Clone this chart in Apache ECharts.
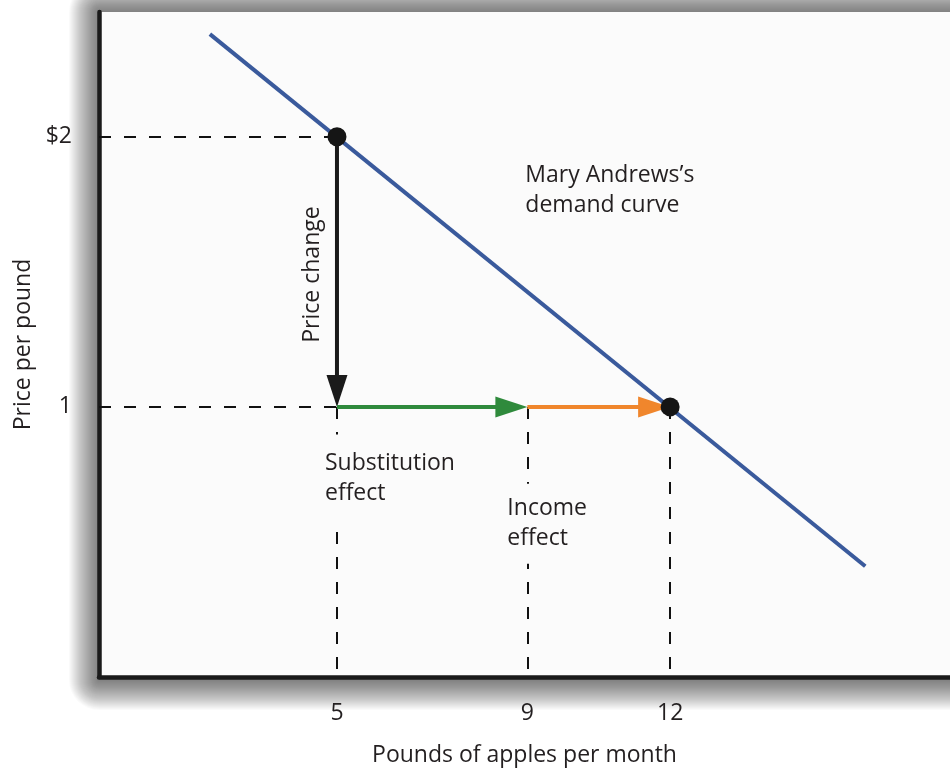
<!DOCTYPE html>
<html>
<head>
<meta charset="utf-8">
<script src="https://cdn.jsdelivr.net/npm/echarts@6/dist/echarts.min.js"></script>
<style>
  html, body { margin: 0; padding: 0; background: #ffffff; }
  #chart { width: 950px; height: 772px; }
</style>
</head>
<body>
<div id="chart"></div>
<script>
// ---- data ----
const xTicks = [5, 9, 12];
const yTicks = [1, 2];
const yTickLabels = { 1: '1', 2: '$2' };
const demandX = [2.33, 16.1];
const demandY = [2.38, 0.41];
const pointA = [5, 2];
const pointB = [12, 1];
// arrows: [x0, y0, x1, y1]  (price change, substitution effect, income effect)
const arrows = [
  [5, 2, 5, 1],
  [5, 1, 9, 1],
  [9, 1, 12, 1]
];
const dashedH = [[[0, 2], [5, 2]], [[0, 1], [5, 1]]];
const dashedV = [[[5, 1], [5, 0]], [[9, 1], [9, 0]], [[12, 1], [12, 0]]];
const annotations = {
  priceChange: { text: 'Price change', at: [5, 1.49] },
  demandCurve: { text: 'Mary Andrews\u2019s\ndemand curve', at: [9, 1.8] },
  substitution: { text: 'Substitution\neffect', at: [5, 0.735] },
  income: { text: 'Income\neffect', at: [9, 0.567] }
};
const xAxisTitle = 'Pounds of apples per month';
const yAxisTitle = 'Price per pound';
const X_MAX = 17.88;
const Y_MAX = 2.462;

// ---- chart ----
const FONT = '"Open Sans", "Noto Sans", sans-serif';
const FS = 23;
const TXT = '#231f20';
const PLOT_BG = '#fbfbfb';
const arrowColors = ['#1a1a1a', '#2f8a3c', '#f0862c'];
const chart = echarts.init(document.getElementById('chart'));

function textSeries(a, label) {
  return {
    type: 'scatter', symbolSize: 0, silent: true, z: 6,
    itemStyle: { opacity: 1 },
    data: [a.at],
    label: Object.assign({
      show: true, formatter: a.text, fontFamily: FONT, fontSize: FS,
      color: TXT, lineHeight: 30
    }, label)
  };
}

function renderArrow(params, api) {
  const p0 = api.coord([api.value(0), api.value(1)]);
  const p1 = api.coord([api.value(2), api.value(3)]);
  const dx = p1[0] - p0[0], dy = p1[1] - p0[1];
  const len = Math.sqrt(dx * dx + dy * dy) || 1;
  const ux = dx / len, uy = dy / len;
  const nx = -uy, ny = ux;
  const L = 32, W = 21;
  const bx = p1[0] - ux * L, by = p1[1] - uy * L;
  const color = arrowColors[params.dataIndex];
  return {
    type: 'group',
    children: [
      {
        type: 'line',
        shape: { x1: p0[0], y1: p0[1], x2: bx + ux * 2, y2: by + uy * 2 },
        style: { stroke: color, lineWidth: 4 }
      },
      {
        type: 'polygon',
        shape: { points: [[p1[0], p1[1]], [bx + nx * W / 2, by + ny * W / 2], [bx - nx * W / 2, by - ny * W / 2]] },
        style: { fill: color }
      }
    ]
  };
}

chart.setOption({
  backgroundColor: '#ffffff',
  animation: false,
  grid: {
    left: 99, right: 0, top: 12, bottom: 95,
    show: false
  },
  xAxis: {
    type: 'value', min: 0, max: X_MAX,
    splitLine: { show: false },
    axisLine: { show: true, onZero: false, lineStyle: { color: '#1a1a1a', width: 4.5 } },
    axisTick: { show: false },
    axisLabel: {
      customValues: xTicks, margin: 25, fontFamily: FONT, fontSize: FS, color: TXT
    },
    name: xAxisTitle, nameLocation: 'middle', nameGap: 67,
    nameTextStyle: { fontFamily: FONT, fontSize: FS, color: TXT }
  },
  yAxis: {
    type: 'value', min: 0, max: Y_MAX,
    splitLine: { show: false },
    axisLine: { show: true, onZero: false, lineStyle: { color: '#1a1a1a', width: 4.5 } },
    axisTick: { show: false },
    axisLabel: {
      customValues: yTicks, margin: 27, fontFamily: FONT, fontSize: FS, color: TXT,
      formatter: v => yTickLabels[v]
    },
    name: yAxisTitle, nameLocation: 'middle', nameGap: 62,
    nameTextStyle: { fontFamily: FONT, fontSize: FS, color: TXT }
  },
  series: [
    {
      type: 'lines', coordinateSystem: 'cartesian2d', silent: true, z: 1,
      data: dashedH.concat(dashedV).map(c => ({ coords: c })),
      lineStyle: { color: '#111', width: 2, type: [12, 13], opacity: 1 }
    },
    {
      type: 'line', silent: true, z: 2, symbol: 'none',
      data: demandX.map((x, i) => [x, demandY[i]]),
      lineStyle: { color: '#3a5a9c', width: 4 }
    },
    {
      type: 'custom', silent: true, z: 4,
      renderItem: renderArrow,
      encode: { x: [0, 2], y: [1, 3] },
      data: arrows
    },
    {
      type: 'scatter', silent: true, z: 5, symbolSize: 19,
      itemStyle: { color: '#151515', opacity: 1 },
      data: [pointA, pointB]
    },
    textSeries(annotations.priceChange, { position: [0, 0], offset: [0, -25], rotate: 90, align: 'center', verticalAlign: 'middle' }),
    textSeries(annotations.demandCurve, { position: [0, 0], offset: [-2, 0], align: 'left', verticalAlign: 'middle' }),
    textSeries(annotations.substitution, { position: [0, 0], offset: [-16, 0], align: 'left', verticalAlign: 'middle', backgroundColor: PLOT_BG, padding: [14, 4, 14, 4] }),
    textSeries(annotations.income, { position: [0, 0], offset: [-24, 0], align: 'left', verticalAlign: 'middle', backgroundColor: PLOT_BG, padding: [10, 4, 10, 4] })
  ]
});

// plot panel with soft drop shadow (layered translucent rects), sized from the grid's own scale
const tl = chart.convertToPixel({ gridIndex: 0 }, [0, Y_MAX]);
const br = chart.convertToPixel({ gridIndex: 0 }, [X_MAX, 0]);
const px = tl[0], py = tl[1], pw = br[0] - tl[0] + 40, ph = br[1] - tl[1];
const shadowLayers = [];
const N = 30;
for (let i = N; i >= 1; i--) {
  shadowLayers.push({
    type: 'rect', silent: true, z: -20, zlevel: 0,
    shape: { x: px - i, y: py - i, width: pw + 2 * i, height: ph + 2 * i + 3, r: i },
    style: { fill: 'rgba(0,0,0,0.02)' }
  });
}
shadowLayers.push({
  type: 'rect', silent: true, z: -10, zlevel: 0,
  shape: { x: px, y: py, width: pw, height: ph },
  style: { fill: PLOT_BG }
});
chart.setOption({ graphic: shadowLayers });
</script>
</body>
</html>
